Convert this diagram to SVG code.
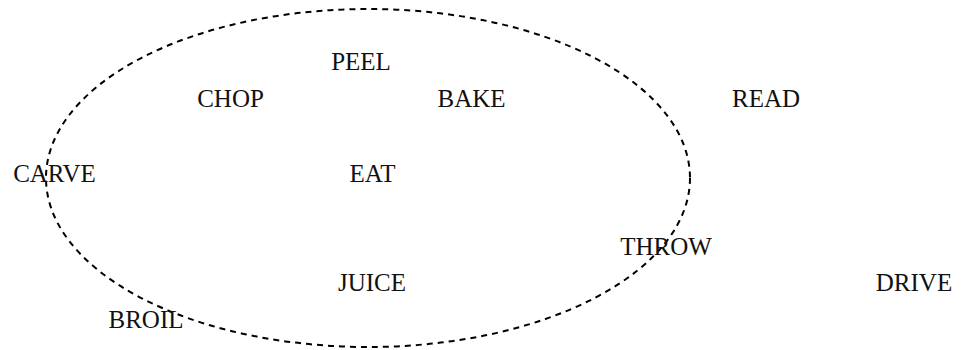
<svg xmlns="http://www.w3.org/2000/svg" width="962" height="350" viewBox="0 0 962 350">
<style>
.lbl{font-family:"Liberation Serif","Times New Roman",serif;font-size:25px;fill:#111;text-anchor:middle}
.grp{fill:none;stroke:#000;stroke-width:2;stroke-dasharray:6,5}
</style>
<rect width="962" height="350" fill="#fff"/>
<g id="connectors"></g>
<g id="cluster"><ellipse class="grp" cx="368" cy="178" rx="322" ry="169"/></g>
<g id="PEEL"><text class="lbl" x="361" y="70">PEEL</text></g>
<g id="CHOP"><text class="lbl" x="230.5" y="107">CHOP</text></g>
<g id="BAKE"><text class="lbl" x="471.5" y="107">BAKE</text></g>
<g id="READ"><text class="lbl" x="766" y="107">READ</text></g>
<g id="CARVE"><text class="lbl" x="54.5" y="181.5">CARVE</text></g>
<g id="EAT"><text class="lbl" x="372.5" y="181.5">EAT</text></g>
<g id="THROW"><text class="lbl" x="666" y="255">THROW</text></g>
<g id="JUICE"><text class="lbl" x="372" y="291">JUICE</text></g>
<g id="DRIVE"><text class="lbl" x="914" y="291">DRIVE</text></g>
<g id="BROIL"><text class="lbl" x="146" y="328">BROIL</text></g>
</svg>
